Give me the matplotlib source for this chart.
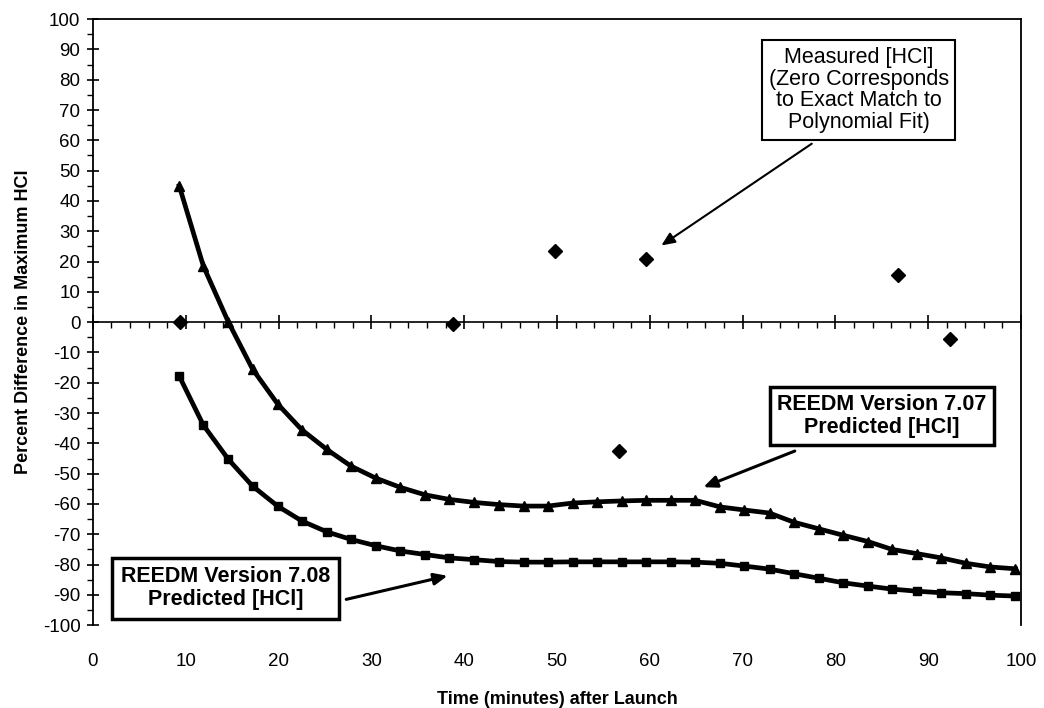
import matplotlib
matplotlib.use("Agg")
import matplotlib.pyplot as plt
from matplotlib.ticker import MultipleLocator

plt.rcParams['font.family'] = ['Liberation Sans', 'DejaVu Sans']
plt.rcParams['axes.unicode_minus'] = False

# time (minutes) of the model points
x_pred = [9.3, 11.9, 14.6, 17.2, 19.9, 22.5, 25.2, 27.8, 30.5, 33.1, 35.8, 38.4,
          41.1, 43.7, 46.4, 49.0, 51.7, 54.3, 57.0, 59.6, 62.3, 64.9, 67.6, 70.2,
          72.9, 75.5, 78.2, 80.8, 83.5, 86.1, 88.8, 91.4, 94.1, 96.7, 99.4]

# REEDM 7.07 predicted (triangles)
v707 = [45, 18.5, 0, -15.5, -27, -35.5, -42, -47.5, -51.5, -54.5, -57, -58.5,
        -59.5, -60.2, -60.7, -60.7, -59.7, -59.3, -59, -58.8, -58.8, -58.8, -61, -62,
        -63, -66, -68.2, -70.3, -72.4, -75, -76.4, -77.8, -79.6, -80.8, -81.4]

# REEDM 7.08 predicted (squares)
v708 = [-17.8, -34, -45.3, -54.1, -60.7, -65.6, -69.2, -71.7, -73.8, -75.5, -76.7, -77.8,
        -78.4, -79, -79.2, -79.2, -79.1, -79.1, -79.1, -79.1, -79.1, -79.2, -79.6, -80.5,
        -81.5, -83, -84.5, -86, -87.1, -88.1, -88.8, -89.3, -89.6, -90.1, -90.4]

# measured [HCl]
x_meas = [9.4, 38.8, 49.8, 56.7, 59.6, 86.7, 92.3]
y_meas = [0, -0.7, 23.4, -42.6, 20.8, 15.5, -5.6]

xticks = list(range(0, 101, 10))
yticks = list(range(-100, 101, 10))

fig = plt.figure(figsize=(10.44, 7.08), dpi=100)
ax = fig.add_axes([0.089, 0.117, 0.889, 0.856])

ax.plot(x_pred, v707, color='black', lw=3.4, marker='^', ms=7, zorder=3)
ax.plot(x_pred, v708, color='black', lw=3.4, marker='s', ms=6, zorder=3)
ax.plot(x_meas, y_meas, 'D', color='black', ms=7, zorder=4)

ax.set_xlim(0, 100)
ax.set_ylim(-100, 100)

# x axis runs through zero
ax.spines['bottom'].set_position(('data', 0))
ax.spines['bottom'].set_linewidth(1.2)
for s in ['left', 'right', 'top']:
    ax.spines[s].set_linewidth(1.3)
ax.set_xticks(xticks)
ax.xaxis.set_minor_locator(MultipleLocator(2))
ax.tick_params(axis='x', which='major', direction='inout', length=10, width=1.2,
               labelbottom=False, top=False)
ax.tick_params(axis='x', which='minor', direction='out', length=4, width=1.0, top=False)

ax.set_yticks(yticks)
ax.yaxis.set_minor_locator(MultipleLocator(5))
ax.tick_params(axis='y', which='major', direction='inout', length=8, width=1.2,
               labelsize=13.5, pad=5, right=False)
ax.tick_params(axis='y', which='minor', direction='out', length=4, width=1.0, right=False)

sec = ax.secondary_xaxis('bottom')
sec.set_xticks(xticks)
sec.tick_params(length=0, labelsize=13.5, pad=20)
sec.spines['bottom'].set_visible(False)
sec.set_xlabel('Time (minutes) after Launch', fontsize=13, fontweight='bold', labelpad=15)

ax.set_ylabel('Percent Difference in Maximum HCl', fontsize=13, fontweight='bold', labelpad=8)

ax.text(82.5, 76.6, 'Measured [HCl]\n(Zero Corresponds\nto Exact Match to\nPolynomial Fit)',
        ha='center', va='center', fontsize=15.5, linespacing=1.05,
        bbox=dict(boxstyle='square,pad=0.3', fc='white', ec='black', lw=1.5))
ax.annotate('', xy=(61.0, 24.8), xytext=(77.7, 59.4),
            arrowprops=dict(arrowstyle='-|>,head_length=0.8,head_width=0.35',
                            color='black', lw=1.5))

ax.text(85.0, -31.0, 'REEDM Version 7.07\nPredicted [HCl]',
        ha='center', va='center', fontsize=15.5, fontweight='bold', linespacing=1.1,
        bbox=dict(boxstyle='square,pad=0.35', fc='white', ec='black', lw=2.5))
ax.annotate('', xy=(65.5, -54.8), xytext=(75.9, -42.2),
            arrowprops=dict(arrowstyle='-|>,head_length=0.8,head_width=0.35',
                            color='black', lw=2.2))

ax.text(14.3, -87.8, 'REEDM Version 7.08\nPredicted [HCl]',
        ha='center', va='center', fontsize=15.5, fontweight='bold', linespacing=1.1,
        bbox=dict(boxstyle='square,pad=0.4', fc='white', ec='black', lw=2.5))
ax.annotate('', xy=(38.5, -83.5), xytext=(27.0, -91.7),
            arrowprops=dict(arrowstyle='-|>,head_length=0.8,head_width=0.35',
                            color='black', lw=2.2))

fig.savefig('out.png', dpi=100)
